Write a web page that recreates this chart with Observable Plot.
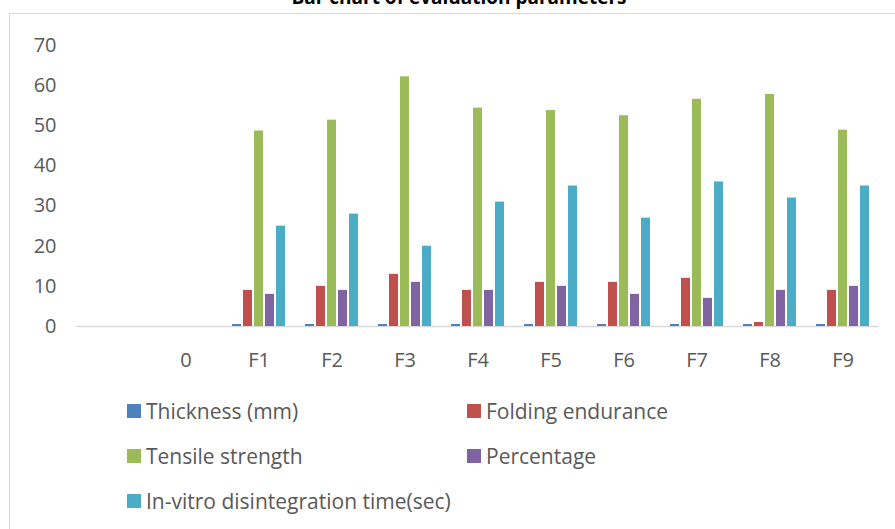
<!DOCTYPE html>
<html>
<head>
<meta charset="utf-8">
<script src="https://cdn.jsdelivr.net/npm/d3@7"></script>
<script src="https://cdn.jsdelivr.net/npm/@observablehq/plot@0.6"></script>
<style>
  html, body { margin: 0; padding: 0; background: #fff; }
  body { width: 895px; height: 529px; overflow: hidden; position: relative; font-family: "Open Sans", sans-serif; }
  #box { position: absolute; left: 9px; top: 13px; width: 900px; height: 600px; border: 1px solid #d9d9d9; box-sizing: border-box; }
  #title { position: absolute; left: 0; width: 918px; top: -12px; text-align: center; font-weight: bold; font-size: 19px; line-height: 19px; color: #000; white-space: nowrap; }
  #chart { position: absolute; left: 0; top: 0; }
  .lg { position: absolute; display: flex; align-items: center; height: 24px; font-size: 21px; color: #595959; white-space: nowrap; }
  .lg span.sw { display: inline-block; width: 14px; height: 14px; margin-right: 5px; }
</style>
</head>
<body>
<div id="box"></div>
<div id="title">Bar chart of evaluation parameters</div>
<div id="chart"></div>
<div id="legend"></div>
<script>
// Categories on the x axis (first one has an empty label)
const categories = ["", "0", "F1", "F2", "F3", "F4", "F5", "F6", "F7", "F8", "F9"];
const formulations = ["F1", "F2", "F3", "F4", "F5", "F6", "F7", "F8", "F9"];
const seriesNames = ["Thickness (mm)", "Folding endurance", "Tensile strength", "Percentage", "In-vitro disintegration time(sec)"];
const seriesColors = ["#4F81BD", "#C0504D", "#9BBB59", "#8064A2", "#4BACC6"];

// Values per formulation F1..F9
const thickness = [0.5, 0.5, 0.5, 0.5, 0.5, 0.5, 0.5, 0.5, 0.5];
const foldingEndurance = [9, 10, 13, 9, 11, 11, 12, 1, 9];
const tensileStrength = [48.7, 51.4, 62.2, 54.4, 53.8, 52.5, 56.6, 57.8, 48.9];
const percentage = [8, 9, 11, 9, 10, 8, 7, 9, 10];
const disintegrationTime = [25, 28, 20, 31, 35, 27, 36, 32, 35];

const yTicks = [0, 10, 20, 30, 40, 50, 60, 70];

const seriesValues = [thickness, foldingEndurance, tensileStrength, percentage, disintegrationTime];
const data = [];
formulations.forEach((f, i) => {
  seriesNames.forEach((s, j) => {
    data.push({cat: f, series: s, value: seriesValues[j][i]});
  });
});

const chart = Plot.plot({
  width: 895,
  height: 380,
  marginLeft: 72,
  marginRight: 13,
  marginTop: 45,
  marginBottom: 54,
  style: {fontFamily: "Open Sans, sans-serif", color: "#595959", background: "transparent"},
  fx: {domain: categories, paddingInner: 0, paddingOuter: 0},
  x: {domain: seriesNames, paddingInner: 0.22, paddingOuter: 0.8, axis: null},
  y: {domain: [0, 70]},
  color: {domain: seriesNames, range: seriesColors},
  marks: [
    // baseline drawn in every category band
    Plot.ruleY(categories, {fx: d => d, y: 0, stroke: "#d9d9d9", strokeWidth: 1.5}),
    Plot.axisY({ticks: yTicks, tickSize: 0, tickPadding: 20, fontSize: 20, label: null}),
    Plot.axisFx({anchor: "bottom", tickSize: 0, tickPadding: 26, fontSize: 20, label: null}),
    Plot.barY(data, {fx: "cat", x: "series", y: "value", fill: "series"})
  ]
});
document.getElementById("chart").appendChild(chart);

// Legend
const legendPos = [
  {left: 127, top: 399}, {left: 467, top: 399},
  {left: 127, top: 444}, {left: 467, top: 444},
  {left: 127, top: 489}
];
const legend = document.getElementById("legend");
seriesNames.forEach((s, i) => {
  const d = document.createElement("div");
  d.className = "lg";
  d.style.left = legendPos[i].left + "px";
  d.style.top = legendPos[i].top + "px";
  const sw = document.createElement("span");
  sw.className = "sw";
  sw.style.background = seriesColors[i];
  d.appendChild(sw);
  d.appendChild(document.createTextNode(s));
  legend.appendChild(d);
});
</script>
</body>
</html>
